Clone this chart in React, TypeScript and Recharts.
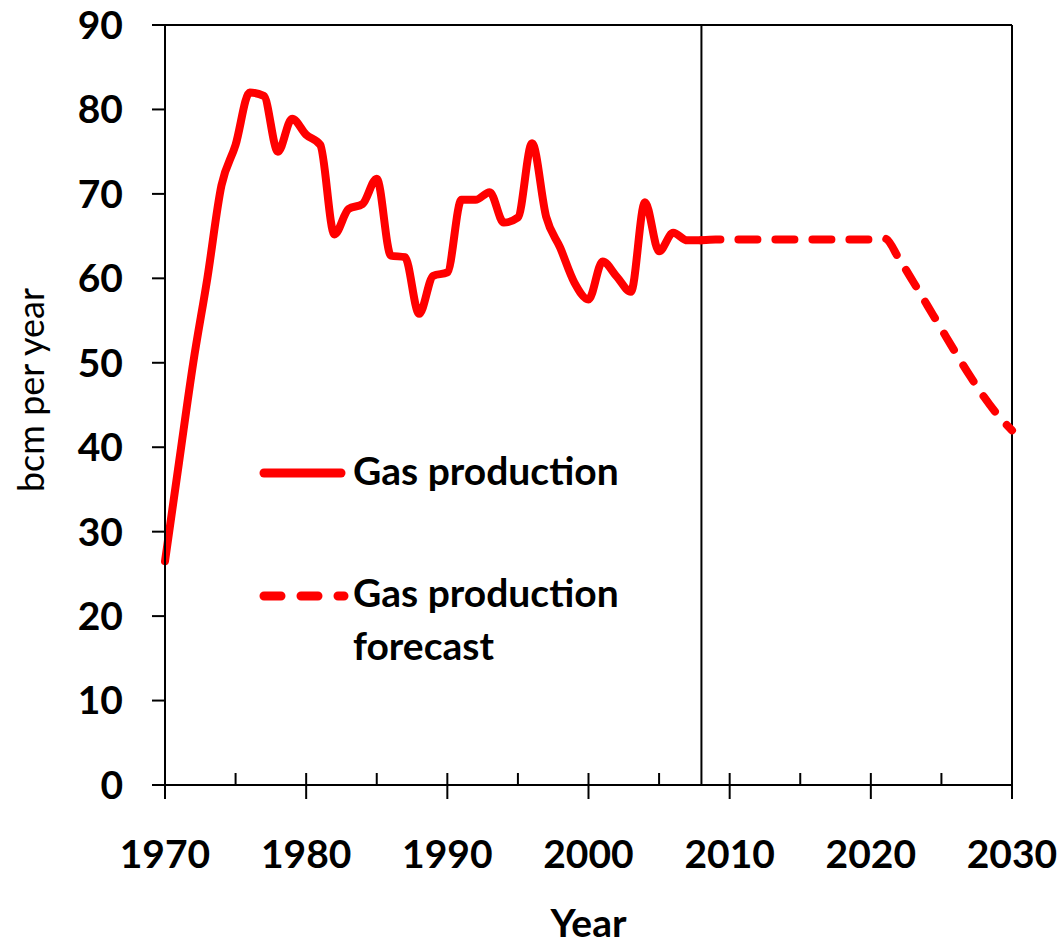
import React from 'react';
import { LineChart, Line, XAxis, YAxis, ReferenceLine, Legend, Label } from 'recharts';

const histYears = [1970, 1971, 1972, 1973, 1974, 1975, 1976, 1977, 1978, 1979, 1980, 1981, 1982, 1983, 1984, 1985, 1986, 1987, 1988, 1989, 1990, 1991, 1992, 1993, 1994, 1995, 1996, 1997, 1998, 1999, 2000, 2001, 2002, 2003, 2004, 2005, 2006, 2007, 2008];
const histValues = [26.5, 38.3, 50, 60, 71, 75.8, 82, 81.6, 75, 78.9, 77, 75.8, 65.2, 68.2, 68.8, 71.8, 62.7, 62.5, 55.8, 60.3, 60.7, 69.3, 69.3, 70.2, 66.6, 67.2, 76, 67.3, 63.6, 59.5, 57.5, 62, 60.2, 58.4, 69, 63.2, 65.4, 64.5, 64.5];
const forecastYears = [2008, 2009, 2010, 2011, 2012, 2013, 2014, 2015, 2016, 2017, 2018, 2019, 2020, 2021, 2022, 2023, 2024, 2025, 2026, 2027, 2028, 2029, 2030];
const forecastValues = [64.5, 64.6, 64.6, 64.6, 64.6, 64.6, 64.6, 64.6, 64.6, 64.6, 64.6, 64.6, 64.6, 64.7, 62.3, 59.6, 56.8, 54.0, 51.2, 48.5, 46.0, 43.8, 42.0];
const xTicks = [1970, 1975, 1980, 1985, 1990, 1995, 2000, 2005, 2010, 2015, 2020, 2025, 2030];
const yTicks = [0, 10, 20, 30, 40, 50, 60, 70, 80, 90];
const divisionYear = 2008;
const seriesNames = ['Gas production', 'Gas production forecast'];

const allYears = Array.from(new Set([...histYears, ...forecastYears])).sort((a, b) => a - b);
const data = allYears.map((year) => {
  const hi = histYears.indexOf(year);
  const fi = forecastYears.indexOf(year);
  return {
    year,
    hist: hi >= 0 ? histValues[hi] : undefined,
    forecast: fi >= 0 ? forecastValues[fi] : undefined,
  };
});

const FONT = 'Lato, "Open Sans", sans-serif';
const RED = '#FF0000';

const XTick = (props: any) => {
  const { x, y, payload } = props;
  const v = payload.value;
  const major = v % 10 === 0;
  return (
    <g>
      <line x1={x} x2={x} y1={y - 12} y2={major ? y + 14 : y} stroke="#000" strokeWidth={2} />
      {major && (
        <text x={x} y={y + 83} textAnchor="middle" fontFamily={FONT} fontWeight={700} fontSize={39} fill="#000">
          {v}
        </text>
      )}
    </g>
  );
};

const YLabel = (props: any) => {
  const vb = props.viewBox || {};
  const cx = (vb.x || 0) + 44;
  const cy = (vb.y || 0) + (vb.height || 0) / 2 - 15;
  return (
    <text
      x={cx}
      y={cy}
      transform={`rotate(-90, ${cx}, ${cy})`}
      textAnchor="middle"
      fontFamily={FONT}
      fontSize={36}
      fontWeight={400}
      fill="#000"
    >
      bcm per year
    </text>
  );
};

const LegendContent = () => (
  <svg width={420} height={240} style={{ display: 'block' }}>
    <line x1={24} x2={101} y1={33} y2={33} stroke={RED} strokeWidth={9} strokeLinecap="round" />
    <text x={113} y={45} fontFamily={FONT} fontWeight={700} fontSize={39} fill="#000">
      {seriesNames[0]}
    </text>
    <line x1={24} x2={104} y1={156} y2={156} stroke={RED} strokeWidth={9} strokeLinecap="round" strokeDasharray="17 20" />
    <text x={113} y={167} fontFamily={FONT} fontWeight={700} fontSize={39} fill="#000">
      <tspan x={113}>Gas production</tspan>
      <tspan x={113} dy={53}>forecast</tspan>
    </text>
  </svg>
);

export default function App() {
  return (
    <div style={{ position: 'absolute', left: 0, top: 0, width: 1060, height: 947, background: '#fff' }}>
      <LineChart width={1060} height={947} data={data} margin={{ top: 25, right: 48, bottom: 0, left: 0 }}>
        <XAxis
          dataKey="year"
          type="number"
          domain={[1970, 2030]}
          ticks={xTicks}
          interval={0}
          height={162}
          tickSize={0}
          tickMargin={0}
          tickLine={false}
          axisLine={{ stroke: '#000', strokeWidth: 2 }}
          tick={<XTick />}
        >
          <Label value="Year" position="insideBottom" offset={10} fontFamily={FONT} fontWeight={700} fontSize={39} fill="#000" />
        </XAxis>
        <YAxis
          type="number"
          domain={[0, 90]}
          ticks={yTicks}
          interval={0}
          width={165}
          tickSize={13}
          tickMargin={29}
          tickLine={{ stroke: '#000', strokeWidth: 2 }}
          axisLine={{ stroke: '#000', strokeWidth: 2 }}
          tick={{ fontFamily: FONT, fontWeight: 700, fontSize: 39, fill: '#000' }}
        >
          <Label content={<YLabel />} />
        </YAxis>
        <ReferenceLine y={90} stroke="#000" strokeWidth={2} />
        <ReferenceLine x={2030} stroke="#000" strokeWidth={2} />
        <ReferenceLine x={divisionYear} stroke="#000" strokeWidth={2} />
        <Line
          type="monotone"
          dataKey="hist"
          name={seriesNames[0]}
          stroke={RED}
          strokeWidth={8}
          strokeLinecap="round"
          strokeLinejoin="round"
          dot={false}
          activeDot={false}
          connectNulls={false}
          isAnimationActive={false}
        />
        <Line
          type="monotone"
          dataKey="forecast"
          name={seriesNames[1]}
          stroke={RED}
          strokeWidth={8}
          strokeLinecap="round"
          strokeDasharray="19 18"
          dot={false}
          activeDot={false}
          connectNulls={false}
          isAnimationActive={false}
        />
        <Legend
          layout="vertical"
          align="center"
          verticalAlign="middle"
          content={<LegendContent />}
          wrapperStyle={{ left: 240, top: 440, width: 420, height: 240 }}
        />
      </LineChart>
    </div>
  );
}
